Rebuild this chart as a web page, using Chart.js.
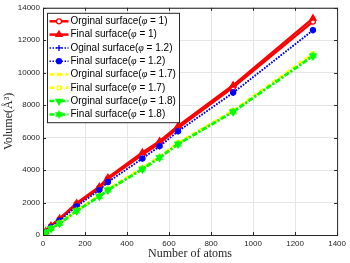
<!DOCTYPE html>
<html>
<head>
<meta charset="utf-8">
<script src="https://cdn.jsdelivr.net/npm/chart.js@4.4.0/dist/chart.umd.min.js"></script>
<style>
  html, body { margin: 0; padding: 0; background: #fff; }
  #wrap { width: 350px; height: 263px; }
</style>
</head>
<body>
<div id="wrap"><canvas id="vol"></canvas></div>
<script>
// number of atoms for each cluster
const atoms = [13, 38, 79, 160, 268, 309, 473, 555, 643, 905, 1285];

// volumes (A^3)
const origPhi1  = [210, 530, 960, 1900, 2900, 3450, 4950, 5650, 6600, 9100, 13150];
const finalPhi1 = [230, 570, 1010, 1960, 2970, 3530, 5080, 5780, 6720, 9220, 13350];
const origPhi12  = [190, 480, 880, 1760, 2750, 3250, 4700, 5450, 6380, 8750, 12600];
const finalPhi12 = [195, 490, 890, 1770, 2770, 3270, 4720, 5480, 6400, 8780, 12630];
const origPhi17  = [170, 410, 740, 1520, 2420, 2820, 4130, 4820, 5680, 7650, 11150];
const finalPhi17 = [172, 415, 745, 1530, 2430, 2830, 4140, 4830, 5690, 7670, 11180];
const origPhi18  = [160, 390, 710, 1480, 2370, 2760, 4050, 4760, 5600, 7580, 11020];
const finalPhi18 = [162, 395, 715, 1490, 2380, 2770, 4060, 4770, 5610, 7600, 11050];

const xTicks = [0, 200, 400, 600, 800, 1000, 1200, 1400];
const yTicks = [0, 2000, 4000, 6000, 8000, 10000, 12000, 14000];

const names = [
  ['Orginal surface(', '1)'],
  ['Final surface(', '1)'],
  ['Oginal surface(', '1.2)'],
  ['Final surface(', '1.2)'],
  ['Orginal surface(', '1.7)'],
  ['Final surface(', '1.7)'],
  ['Orginal surface(', '1.8)'],
  ['Final surface(', '1.8)']
];

// filled hexagram marker like matlab 'h'
function hexagram(color, r) {
  const c = document.createElement('canvas');
  const s = Math.ceil(r * 2 + 2);
  c.width = s; c.height = s;
  const g = c.getContext('2d');
  g.fillStyle = color;
  g.beginPath();
  for (let i = 0; i < 12; i++) {
    const a = -Math.PI / 2 + i * Math.PI / 6;
    const rr = i % 2 ? r * 0.55 : r;
    g.lineTo(s / 2 + rr * Math.cos(a), s / 2 + rr * Math.sin(a));
  }
  g.closePath();
  g.fill();
  return c;
}

const RED = '#ff0000', BLUE = '#0000ff', YEL = '#ffff00', GRN = '#00ff00';

function pts(vals) {
  return atoms.map((a, i) => ({ x: a, y: vals[i] }));
}

function ds(i, vals, color, width, dash, style, fill, radius, rot) {
  return {
    label: names[i].join(''),
    data: pts(vals),
    borderColor: color,
    backgroundColor: fill,
    borderWidth: width,
    borderDash: dash,
    pointStyle: style,
    pointRadius: radius,
    pointBorderColor: color,
    pointBackgroundColor: fill,
    pointBorderWidth: 1.3,
    pointRotation: rot || 0,
    tension: 0,
    fill: false,
    order: 10 - i
  };
}

const datasets = [
  ds(0, origPhi1, RED, 2.5, [], 'circle', '#ffffff', 2.5),
  ds(1, finalPhi1, RED, 2.5, [], 'triangle', RED, 3.5),
  ds(2, origPhi12, BLUE, 1.5, [1.5, 1.5], 'cross', BLUE, 3),
  ds(3, finalPhi12, BLUE, 1.5, [1.5, 1.5], 'circle', BLUE, 2.5),
  ds(4, origPhi17, YEL, 2.5, [5, 3], 'crossRot', YEL, 2.5),
  ds(5, finalPhi17, YEL, 2.5, [5, 3], 'rect', '#ffffff', 2.5),
  ds(6, origPhi18, GRN, 2.5, [5, 2, 2, 2], 'triangle', GRN, 3.5, 180),
  ds(7, finalPhi18, GRN, 2.5, [5, 2, 2, 2], hexagram(GRN, 4.5), GRN, 4.5)
];

const AX = '#262626';

// axes box with inward ticks, like matlab
const boxPlugin = {
  id: 'box',
  afterDraw(chart) {
    const { ctx, chartArea: a, scales } = chart;
    ctx.save();
    ctx.strokeStyle = AX;
    ctx.lineWidth = 1;
    ctx.strokeRect(a.left + 0.5, a.top + 0.5, a.right - a.left, a.bottom - a.top);
    ctx.beginPath();
    xTicks.forEach(v => {
      const x = Math.round(scales.x.getPixelForValue(v)) + 0.5;
      ctx.moveTo(x, a.bottom); ctx.lineTo(x, a.bottom - 3);
      ctx.moveTo(x, a.top); ctx.lineTo(x, a.top + 3);
    });
    yTicks.forEach(v => {
      const y = Math.round(scales.y.getPixelForValue(v)) + 0.5;
      ctx.moveTo(a.left, y); ctx.lineTo(a.left + 3, y);
      ctx.moveTo(a.right, y); ctx.lineTo(a.right - 3, y);
    });
    ctx.stroke();
    ctx.restore();
  }
};

// legend box inside the axes, top left
const legendPlugin = {
  id: 'innerLegend',
  afterDraw(chart) {
    const { ctx, chartArea: a } = chart;
    const x0 = a.left + 4.5, y0 = a.top + 5.5;
    const w = 132, rowH = 13.3, h = rowH * datasets.length + 3;
    ctx.save();
    ctx.fillStyle = '#ffffff';
    ctx.fillRect(x0, y0, w, h);
    ctx.strokeStyle = AX;
    ctx.lineWidth = 1;
    ctx.strokeRect(x0, y0, w, h);
    chart.data.datasets.forEach((d, i) => {
      const y = y0 + 8 + i * rowH;
      ctx.strokeStyle = d.borderColor;
      ctx.lineWidth = d.borderWidth;
      ctx.setLineDash(d.borderDash);
      ctx.beginPath();
      ctx.moveTo(x0 + 2, y); ctx.lineTo(x0 + 21, y);
      ctx.stroke();
      ctx.setLineDash([]);
      ctx.fillStyle = d.pointBackgroundColor;
      ctx.strokeStyle = d.pointBorderColor;
      ctx.lineWidth = d.pointBorderWidth;
      Chart.helpers.drawPoint(ctx, {
        pointStyle: d.pointStyle, radius: d.pointRadius,
        rotation: d.pointRotation, borderWidth: d.pointBorderWidth
      }, x0 + 11.5, y);
      // label with italic phi
      ctx.fillStyle = '#000';
      ctx.textBaseline = 'middle';
      let tx = x0 + 23;
      ctx.font = '10px "Liberation Sans", Arial, sans-serif';
      ctx.fillText(names[i][0], tx, y);
      tx += ctx.measureText(names[i][0]).width;
      ctx.font = 'italic 10px "Liberation Serif", serif';
      ctx.fillText('\u03c6', tx, y);
      tx += ctx.measureText('\u03c6').width;
      ctx.font = '10px "Liberation Sans", Arial, sans-serif';
      ctx.fillText(' = ' + names[i][1], tx, y);
    });
    ctx.restore();
  }
};

const ctx = document.getElementById('vol').getContext('2d');
const volChart = new Chart(ctx, {
  type: 'line',
  data: { datasets: datasets },
  options: {
    responsive: true,
    maintainAspectRatio: false,
    animation: false,
    layout: { padding: { left: 2, right: 6, top: 3, bottom: 2 } },
    plugins: {
      legend: { display: false },
      tooltip: { enabled: false }
    },
    scales: {
      x: {
        type: 'linear',
        min: 0,
        max: 1400,
        afterBuildTicks: s => { s.ticks = xTicks.map(v => ({ value: v })); },
        afterFit: s => { s.height = 26; },
        grid: { color: '#e6e6e6', drawTicks: false },
        border: { display: false },
        ticks: {
          padding: 4,
          color: AX,
          maxRotation: 0,
          callback: v => String(v),
          font: { family: '"Liberation Sans", Arial, sans-serif', size: 8 }
        },
        title: {
          display: true,
          text: 'Number of atoms',
          color: AX,
          padding: { top: 0, bottom: 0 },
          font: { family: '"Liberation Serif", "Times New Roman", serif', size: 12 }
        }
      },
      y: {
        min: 0,
        max: 14000,
        afterBuildTicks: s => { s.ticks = yTicks.map(v => ({ value: v })); },
        afterFit: s => { s.width = 41; },
        grid: { color: '#e6e6e6', drawTicks: false },
        border: { display: false },
        ticks: {
          padding: 3,
          color: AX,
          callback: v => String(v),
          font: { family: '"Liberation Sans", Arial, sans-serif', size: 8 }
        },
        title: {
          display: true,
          text: 'Volume(\u00c5\u00b3)',
          color: AX,
          padding: { top: 0, bottom: 0 },
          font: { family: '"Liberation Serif", "Times New Roman", serif', size: 12 }
        }
      }
    }
  },
  plugins: [boxPlugin, legendPlugin]
});
</script>
</body>
</html>
